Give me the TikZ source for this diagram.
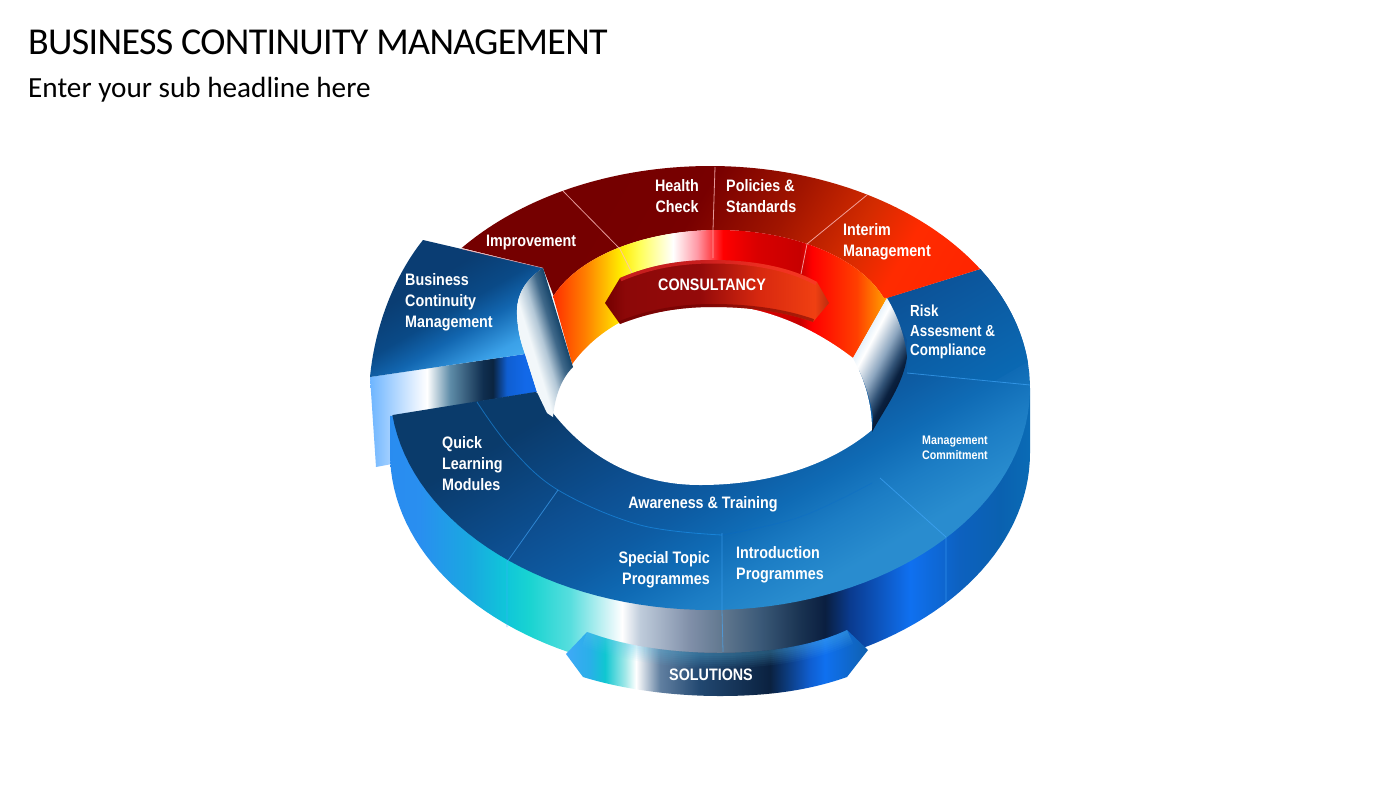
\documentclass[tikz,border=0pt]{standalone}
\usepackage{fontspec}
\newfontfamily\tit{Carlito}[LetterSpace=-1.75]
\newfontfamily\subt{Carlito}
\newfontfamily\lab{Liberation Sans}[FakeStretch=0.863]
\newfontfamily\labr{Liberation Sans}[FakeStretch=0.837]

\pgfdeclarehorizontalshading{wallsh}{100bp}{rgb(0bp)=(.16,.55,.94);rgb(27.86bp)=(.16,.55,.94);rgb(30bp)=(.16,.56,.94);rgb(33.57bp)=(.10,.66,.88);rgb(36.21bp)=(.06,.78,.85);rgb(37.86bp)=(.10,.83,.82);rgb(40.71bp)=(.34,.87,.87);rgb(43.57bp)=(.85,.96,.97);rgb(44.43bp)=(1,1,1);rgb(45.71bp)=(.75,.80,.86);rgb(49.29bp)=(.50,.56,.66);rgb(51.57bp)=(.38,.47,.56);rgb(54.29bp)=(.23,.35,.47);rgb(57.14bp)=(.10,.2,.32);rgb(58.93bp)=(.04,.12,.25);rgb(60.71bp)=(.04,.23,.56);rgb(65bp)=(.06,.44,.94);rgb(68.57bp)=(.05,.38,.75);rgb(71.43bp)=(.04,.38,.69);rgb(73.57bp)=(.04,.42,.71);rgb(100bp)=(.04,.42,.71)}
\pgfdeclarehorizontalshading{tailsh}{100bp}{rgb(0bp)=(.43,.71,1);rgb(26.43bp)=(.43,.71,1);rgb(29.79bp)=(.91,.95,1);rgb(30.5bp)=(1,1,1);rgb(32.14bp)=(.37,.55,.66);rgb(34.5bp)=(.06,.18,.31);rgb(35.2bp)=(.04,.14,.25);rgb(36.2bp)=(.06,.37,.82);rgb(37.5bp)=(.07,.41,.91);rgb(100bp)=(.07,.41,.91)}
\pgfdeclarehorizontalshading{bandsh}{100bp}{rgb(0bp)=(1,.2,0);rgb(39.64bp)=(1,.2,0);rgb(41.8bp)=(1,.5,0);rgb(44.29bp)=(1,.92,0);rgb(45.71bp)=(1,1,.35);rgb(48.07bp)=(1,1,1);rgb(49.79bp)=(1,.6,.65);rgb(51.64bp)=(1,0,0);rgb(54.07bp)=(.85,0,0);rgb(57.14bp)=(.78,0,0);rgb(58bp)=(1,0,0);rgb(61.21bp)=(1,.25,0);rgb(63.21bp)=(1,.62,0);rgb(100bp)=(1,.62,0)}
\pgfdeclarehorizontalshading{conssh}{100bp}{rgb(0bp)=(.45,0,0);rgb(43.2bp)=(.45,0,0);rgb(44.6bp)=(.55,.03,.03);rgb(50bp)=(.58,.04,.04);rgb(54.3bp)=(.85,.16,.06);rgb(58.2bp)=(.94,.25,.07);rgb(59.1bp)=(.75,.18,.06);rgb(100bp)=(.75,.18,.06)}
\pgfdeclarehorizontalshading{solsh}{100bp}{rgb(0bp)=(.25,.66,.97);rgb(40.43bp)=(.25,.66,.97);rgb(42.14bp)=(.16,.69,.91);rgb(43.21bp)=(.06,.78,.82);rgb(44.64bp)=(.63,.91,.91);rgb(45.43bp)=(1,1,1);rgb(47.14bp)=(.38,.5,.63);rgb(50bp)=(.13,.28,.44);rgb(55bp)=(.04,.13,.25);rgb(57.86bp)=(.06,.37,.82);rgb(58.93bp)=(.06,.44,.94);rgb(62bp)=(.06,.38,.69);rgb(100bp)=(.06,.38,.69)}
\pgfdeclarehorizontalshading{bluesh}{100bp}{rgb(0bp)=(.04,.23,.42);rgb(35.5bp)=(.04,.23,.42);rgb(47.6bp)=(.05,.31,.57);rgb(54.6bp)=(.05,.36,.64);rgb(60bp)=(.06,.42,.71);rgb(65bp)=(.11,.49,.77);rgb(71bp)=(.16,.55,.81);rgb(100bp)=(.17,.56,.82)}
\pgfdeclarehorizontalshading{risksh}{100bp}{rgb(0bp)=(.05,.31,.58);rgb(25bp)=(.05,.31,.58);rgb(75bp)=(.04,.41,.70);rgb(100bp)=(.04,.41,.70)}
\pgfdeclarehorizontalshading{redsh}{100bp}{rgb(0bp)=(.45,0,0);rgb(36.8bp)=(.46,0,0);rgb(44.7bp)=(.47,0,0);rgb(53.2bp)=(.63,.08,0);rgb(60.7bp)=(.83,.17,0);rgb(65.9bp)=(1,.17,0);rgb(71.9bp)=(1,.15,0);rgb(100bp)=(1,.15,0)}
\pgfdeclarehorizontalshading{bcsh}{100bp}{rgb(0bp)=(.04,.24,.45);rgb(39bp)=(.04,.24,.45);rgb(50.3bp)=(.04,.29,.53);rgb(58.1bp)=(.07,.40,.69);rgb(68.75bp)=(.23,.63,.91);rgb(75bp)=(.27,.68,.95);rgb(100bp)=(.27,.68,.95)}
\pgfdeclarehorizontalshading{lcurlsh}{100bp}{rgb(0bp)=(.94,.96,.97);rgb(39bp)=(.95,.97,.98);rgb(51bp)=(.7,.78,.84);rgb(63bp)=(.25,.41,.54);rgb(75bp)=(.04,.23,.38);rgb(100bp)=(.04,.23,.38)}
\pgfdeclarehorizontalshading{rcurlsh}{100bp}{rgb(0bp)=(.85,.92,.97);rgb(25bp)=(.85,.92,.97);rgb(35bp)=(1,1,1);rgb(50bp)=(.55,.65,.75);rgb(60bp)=(.2,.33,.47);rgb(67.5bp)=(.04,.13,.25);rgb(75bp)=(.02,.08,.18);rgb(100bp)=(.02,.08,.18)}

\newcommand\earc[6]{-- plot[domain=#5:#6,samples=80,variable=\t]({#1+#3*cos(\t)},{#2+#4*sin(\t)})}
\newcommand\gshade[5]{\begin{scope}[transform canvas={rotate around={#2:(#3,#4)}}]\shade[shading=#1] ({#3-#5},{#4-800}) rectangle ({#3+#5},{#4+800});\end{scope}}
\newcommand\fillgrad[6]{\begin{scope}\clip #1;\gshade{#2}{#3}{#4}{#5}{#6}\end{scope}}

\def\pTail{(370,377) -- (525,354) -- (537,392) -- (390,416) -- (392,464) -- (376,467) -- cycle}
\def\pWall{(390,416) -- (390,453) \earc{710}{453}{320}{222}{180}{0} -- (1030,388) -- (710,388) -- cycle}
\def\pBlue{(981,269) \earc{710}{388}{320}{222}{-32.4}{173} -- (535,392) -- (560,400) -- (713,395) -- (860,370) -- (887,298) -- cycle}
\def\pRisk{(981,269) \earc{710}{388}{320}{222}{-32.4}{-0.6} -- (907,373) -- (907,340) -- (887,298) -- cycle}
\def\pRed{(462,248) \earc{710}{388}{320}{222}{219}{327.6} -- (887,298) \earc{718}{330}{175}{100}{341.3}{200} -- (543,268) -- cycle}
\def\pBand{(553,296) \earc{718}{330}{175}{100}{200}{341.3} -- (887,298) -- (853,358) -- (713,395) -- (573,367) -- cycle}
\def\pHole{(553,413) .. controls (556,380) and (580,345) .. (619,323) .. controls (650,310) and (680,305) .. (715,305) .. controls (760,305) and (810,325) .. (853,358) .. controls (865,380) and (872,405) .. (872,430) .. controls (830,465) and (770,485) .. (700,485) .. controls (640,485) and (590,460) .. (553,413) -- cycle}
\def\pCons{(605,303) -- (620,278) .. controls (650,265) and (680,260) .. (713,260) .. controls (752,260) and (790,267) .. (817,282) -- (829,303) -- (813,322) .. controls (785,312) and (750,307) .. (713,307) .. controls (680,307) and (650,312) .. (620,324) -- cycle}
\def\pSol{(566,654) -- (587,632) .. controls (630,648) and (680,653) .. (720,653) .. controls (770,653) and (815,645) .. (847,630) -- (868,650) -- (847,677) .. controls (810,690) and (770,696) .. (720,696) .. controls (675,696) and (625,690) .. (583,677) -- cycle}
\def\pSolTop{(587,632) .. controls (630,648) and (680,653) .. (720,653) .. controls (770,653) and (815,645) .. (847,630)}
\def\pBC{(423,240) -- (543,268) .. controls (525,280) and (516,295) .. (517,315) .. controls (518,335) and (522,345) .. (525,354) -- (370,377) .. controls (375,325) and (395,275) .. (423,240) -- cycle}
\def\pLC{(543,268) .. controls (525,280) and (516,295) .. (517,315) .. controls (518,335) and (522,345) .. (525,354) -- (537,392) -- (547,413) -- (553,417) .. controls (555,395) and (562,378) .. (573,367) -- cycle}
\def\pRC{(887,298) .. controls (897,315) and (905,335) .. (907,357) .. controls (903,385) and (885,408) .. (872,432) -- (873,417) .. controls (870,395) and (862,375) .. (853,358) -- cycle}

\tikzset{
  lab/.style={text=white,font=\lab\bfseries\fontsize{16.6}{21}\selectfont,inner sep=0pt,align=left,anchor=west},
  labc/.style={lab,align=center,anchor=center},
  seamr/.style={draw=white!75!red,line width=.8pt,opacity=.8},
  seamb/.style={draw=white!45!blue!60!cyan,line width=.8pt,opacity=.6},
  soft/.style={draw=cyan!60!white,line width=#1,opacity=.05}
}
\begin{document}
\begin{tikzpicture}[x=1pt,y=-1pt]
\useasboundingbox (0,0) rectangle (1400,788);
\fill[white] (0,0) rectangle (1400,788);

% back arrow band
\fillgrad{\pTail}{tailsh}{0}{700}{400}{350}
% outer wall and top of blue ring
\fillgrad{\pWall}{wallsh}{0}{700}{400}{350}
\fillgrad{\pBlue}{bluesh}{-60}{710}{454}{200}
\fillgrad{\pRisk}{risksh}{-60}{960}{320}{70}
% red ring
\fillgrad{\pRed}{redsh}{-30}{800}{128}{240}
\fillgrad{\pBand}{bandsh}{0}{700}{400}{350}
% seams on red ring
\coordinate (ra1) at (563,191); \coordinate (ra2) at (620,249); \coordinate (ra3) at (632,273);
\coordinate (rb1) at (715,167); \coordinate (rb2) at (713,230); \coordinate (rb3) at (713,258);
\coordinate (rc1) at (867,195); \coordinate (rc2) at (807,244); \coordinate (rc3) at (801,274);
\draw[seamr] (ra1) -- (ra2) -- (ra3);
\draw[seamr] (rb1) -- (rb2) -- (rb3);
\draw[seamr] (rc1) -- (rc2) -- (rc3);
% hole
\fill[white] \pHole;
% seams on blue ring
\draw[draw=white!25!blue!50!cyan,line width=.8pt,opacity=.5] plot[smooth,tension=.6] coordinates {(477,402) (510,447) (558,490) (640,525) (722,535)};
\draw[draw=black!30!blue!60!cyan,line width=.8pt,opacity=.22] plot[smooth,tension=.6] coordinates {(722,535) (800,517) (872,483)};
\coordinate (ba1) at (558,490); \coordinate (ba2) at (507,562); \coordinate (ba3) at (507,627);
\coordinate (bb1) at (722,533); \coordinate (bb2) at (722,610); \coordinate (bb3) at (723,652);
\coordinate (bc1) at (880,478); \coordinate (bc2) at (946,537); \coordinate (bc3) at (946,602);
\coordinate (bd1) at (907,373); \coordinate (bd2) at (1030,385);
\draw[seamb] (ba1) -- (ba2) -- (ba3);
\draw[seamb] (bb1) -- (bb2) -- (bb3);
\draw[seamb] (bc1) -- (bc2) -- (bc3);
\draw[seamb] (bd1) -- (bd2);
% block at the arrow head, curls
\fillgrad{\pBC}{bcsh}{-60}{450}{310}{80}
\draw[draw=white!60!red,line width=.7pt,opacity=.6] (462,249) -- (543,268);
\fillgrad{\pLC}{lcurlsh}{17}{532}{310}{25}
\fillgrad{\pRC}{rcurlsh}{-28}{882}{359}{30}
% consultancy tag
\begin{scope}
  \clip \pCons;
  \gshade{conssh}{0}{700}{400}{350}
  \draw[draw=red!80!white,line width=7pt,opacity=.5] (620,278) .. controls (650,265) and (680,260) .. (713,260) .. controls (752,260) and (790,267) .. (817,282);
  \draw[draw=black!60!red,line width=6pt,opacity=.5] (813,322) .. controls (785,312) and (750,307) .. (713,307) .. controls (680,307) and (650,312) .. (620,324);
\end{scope}
% solutions tag
\begin{scope}
  \clip \pSol;
  \gshade{solsh}{0}{700}{400}{350}
  \foreach \w in {6,10,14,18,22,26,30}{\draw[soft=\w pt] \pSolTop;}
\end{scope}

% texts
\node[inner sep=0pt,anchor=west,font=\tit\fontsize{38}{44}\selectfont] (title) at (28,42) {BUSINESS CONTINUITY MANAGEMENT};
\node[inner sep=0pt,anchor=west,font=\subt\fontsize{29.2}{34}\selectfont] (subtitle) at (28,89.5) {Enter your sub headline here};
\node[labc] (health) at (677,196) {Health\\Check};
\node[lab] (policies) at (726,196.5) {Policies \&\\Standards};
\node[lab] (interim) at (843,241.5) {Interim\\Management};
\node[lab] (improve) at (486,243) {Improvement};
\node[labc] (cons) at (712,285) {CONSULTANCY};
\node[lab] (bcm) at (405,302) {Business\\Continuity\\Management};
\node[lab,font=\labr\bfseries\fontsize{16}{19.5}\selectfont] (risk) at (910,332) {Risk\\Assesment \&\\Compliance};
\node[lab,font=\lab\bfseries\fontsize{12.4}{15.5}\selectfont] (mgmt) at (922,448) {Management\\Commitment};
\node[lab] (quick) at (442,464) {Quick\\Learning\\Modules};
\node[labc] (aware) at (703,504) {Awareness \& Training};
\node[lab,align=right,anchor=east] (special) at (710,569.5) {Special Topic\\Programmes};
\node[lab] (intro) at (736,564.5) {Introduction\\Programmes};
\node[labc] (sol) at (711,675) {SOLUTIONS};
\end{tikzpicture}
\end{document}
